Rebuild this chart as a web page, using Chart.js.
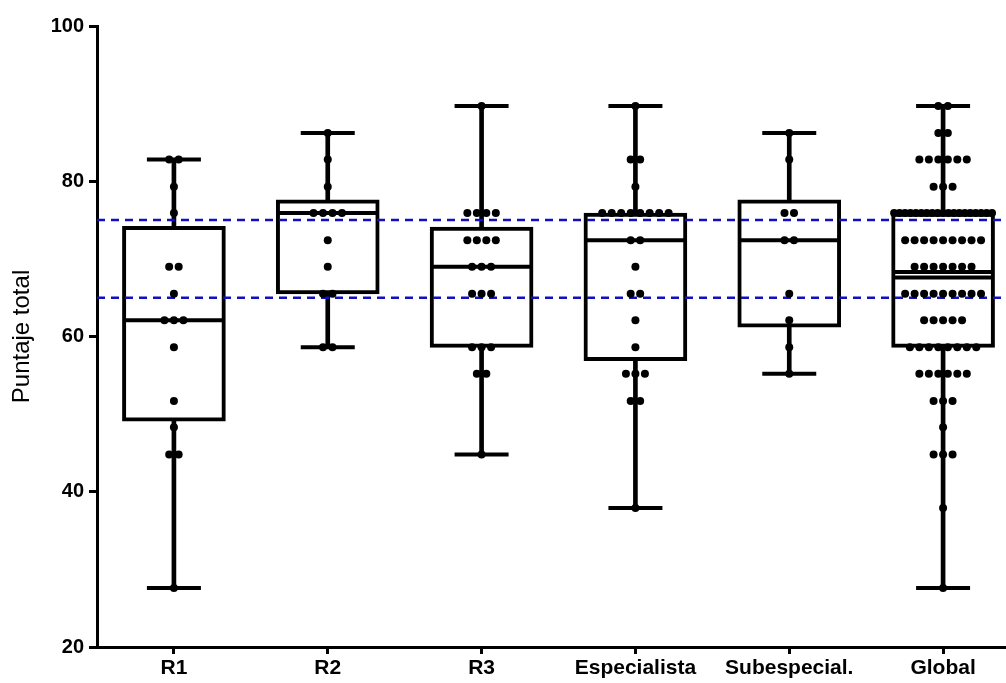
<!DOCTYPE html>
<html lang="es">
<head>
<meta charset="utf-8">
<title>Puntaje total</title>
<script src="https://cdn.jsdelivr.net/npm/chart.js@4.4.0/dist/chart.umd.min.js"></script>
<style>
    html, body { margin: 0; padding: 0; background: #fff; overflow: hidden; }
    canvas { display: block; }
</style>
</head>
<body>
<canvas id="grafico" width="1021" height="683"></canvas>
<script>
// Datos
const categorias = ['R1', 'R2', 'R3', 'Especialista', 'Subespecial.', 'Global'];
const ticksY = [20, 40, 60, 80, 100];
const lineasReferencia = [75, 65];

// Estadísticos de cada caja
const minimos  = [27.6, 58.6, 44.8, 37.9, 55.2, 27.6];
const cuartil1 = [49.1, 65.5, 58.6, 56.9, 61.2, 58.6];
const medianas = [62.1, 75.9, 69.0, 72.4, 72.4, 68.3];
const cuartil3 = [74.2, 77.6, 74.1, 75.9, 77.6, 75.9];
const maximos  = [82.8, 86.2, 89.7, 89.7, 86.2, 89.7];
const medias   = [null, null, null, null, null, 67.6];

// Puntajes individuales por grupo
const puntosR1 = [82.8, 82.8, 79.3, 75.9, 69.0, 69.0, 65.5, 62.1, 62.1, 62.1, 58.6, 51.7, 48.3, 44.8, 44.8, 27.6];
const puntosR2 = [86.2, 82.8, 79.3, 75.9, 75.9, 75.9, 75.9, 72.4, 69.0, 65.5, 65.5, 58.6, 58.6];
const puntosR3 = [89.7, 75.9, 75.9, 75.9, 75.9, 72.4, 72.4, 72.4, 72.4, 69.0, 69.0, 69.0,
                  65.5, 65.5, 65.5, 58.6, 58.6, 58.6, 55.2, 55.2, 44.8];
const puntosEspecialista = [89.7, 82.8, 82.8, 79.3, 75.9, 75.9, 75.9, 75.9, 75.9, 75.9, 75.9, 75.9,
                            72.4, 72.4, 69.0, 65.5, 65.5, 62.1, 58.6, 55.2, 55.2, 55.2, 51.7, 51.7, 37.9];
const puntosSubespecial = [86.2, 82.8, 75.9, 75.9, 72.4, 72.4, 65.5, 62.1, 58.6, 55.2];
const puntosGlobal = [89.7, 89.7, 86.2, 86.2, 82.8, 82.8, 82.8, 82.8, 82.8, 82.8, 79.3, 79.3, 79.3,
                      75.9, 75.9, 75.9, 75.9, 75.9, 75.9, 75.9, 75.9, 75.9, 75.9, 75.9, 75.9, 75.9, 75.9, 75.9, 75.9, 75.9, 75.9, 75.9,
                      72.4, 72.4, 72.4, 72.4, 72.4, 72.4, 72.4, 72.4, 72.4,
                      69.0, 69.0, 69.0, 69.0, 69.0, 69.0, 69.0,
                      65.5, 65.5, 65.5, 65.5, 65.5, 65.5, 65.5, 65.5, 65.5,
                      62.1, 62.1, 62.1, 62.1, 62.1,
                      58.6, 58.6, 58.6, 58.6, 58.6, 58.6, 58.6, 58.6,
                      55.2, 55.2, 55.2, 55.2, 55.2, 55.2,
                      51.7, 51.7, 51.7, 48.3, 44.8, 44.8, 44.8, 37.9, 27.6];
const grupos = [puntosR1, puntosR2, puntosR3, puntosEspecialista, puntosSubespecial, puntosGlobal];

// Separación horizontal de puntos con el mismo valor (en píxeles)
const ANCHO_CATEGORIA_PX = 154;
const PASO_PX = 9.5;
const ANCHO_MAX_PX = 98;

function repartirPuntos(valores, indice) {
    const conteo = {};
    valores.forEach(v => { conteo[v] = (conteo[v] || 0) + 1; });
    const puntos = [];
    Object.keys(conteo).forEach(clave => {
        const n = conteo[clave];
        const paso = n > 1 ? Math.min(PASO_PX, ANCHO_MAX_PX / (n - 1)) : 0;
        for (let j = 0; j < n; j++) {
            puntos.push({
                x: indice + (j - (n - 1) / 2) * paso / ANCHO_CATEGORIA_PX,
                y: Number(clave)
            });
        }
    });
    return puntos;
}

const porCategoria = (valores) => valores
    .map((v, i) => ({ x: i, y: v }))
    .filter(p => p.y !== null);

// Quitar el relleno automático que agrega cada eje
function sinRelleno(scale) {
    scale.paddingLeft = 0;
    scale.paddingRight = 0;
    scale.paddingTop = 0;
    scale.paddingBottom = 0;
}

Chart.defaults.font.family = "'Liberation Sans', Arial, sans-serif";
Chart.defaults.color = '#000';

const datasets = [
    {
        label: 'Puntajes',
        type: 'scatter',
        data: grupos.flatMap((g, i) => repartirPuntos(g, i)),
        pointRadius: 4,
        backgroundColor: '#000',
        borderWidth: 0,
        order: 0
    },
    {
        label: 'Mediana',
        type: 'scatter',
        data: porCategoria(medianas),
        pointStyle: 'line',
        pointRadius: 51,
        borderColor: '#000',
        borderWidth: 4,
        order: 1
    },
    {
        label: 'Media',
        type: 'scatter',
        data: porCategoria(medias),
        pointStyle: 'line',
        pointRadius: 51,
        borderColor: '#000',
        borderWidth: 4,
        order: 1
    },
    {
        label: 'Extremos',
        type: 'scatter',
        data: porCategoria(minimos).concat(porCategoria(maximos)),
        pointStyle: 'line',
        pointRadius: 27,
        borderColor: '#000',
        borderWidth: 4,
        order: 1
    }
];

lineasReferencia.forEach(valor => {
    datasets.push({
        label: 'Referencia ' + valor,
        type: 'line',
        data: [{ x: -0.5, y: valor }, { x: categorias.length - 0.5, y: valor }],
        borderColor: '#1010c0',
        borderWidth: 2.5,
        borderDash: [8, 6],
        pointRadius: 0,
        order: 2
    });
});

datasets.push({
    label: 'Caja',
    type: 'bar',
    data: categorias.map((c, i) => ({ x: i, y: [cuartil1[i], cuartil3[i]] })),
    backgroundColor: '#fff',
    borderColor: '#000',
    borderWidth: 4,
    borderSkipped: false,
    barThickness: 103,
    grouped: false,
    order: 3
});

datasets.push({
    label: 'Bigote',
    type: 'bar',
    data: categorias.map((c, i) => ({ x: i, y: [minimos[i], maximos[i]] })),
    backgroundColor: '#000',
    borderWidth: 0,
    barThickness: 4,
    grouped: false,
    order: 4
});

new Chart(document.getElementById('grafico'), {
    type: 'scatter',
    data: { datasets: datasets },
    options: {
        responsive: false,
        animation: false,
        events: [],
        layout: {
            autoPadding: false,
            padding: { top: 26, right: 1, bottom: 0, left: 0 }
        },
        plugins: {
            legend: { display: false },
            tooltip: { enabled: false }
        },
        scales: {
            x: {
                type: 'linear',
                min: -0.5,
                max: categorias.length - 0.5,
                offset: false,
                afterBuildTicks: (scale) => {
                    scale.ticks = categorias.map((c, i) => ({ value: i }));
                },
                afterFit: (scale) => {
                    scale.height = 36;
                    sinRelleno(scale);
                },
                ticks: {
                    autoSkip: false,
                    maxRotation: 0,
                    padding: 2,
                    font: { size: 21, weight: 'bold' },
                    callback: (value) => categorias[value]
                },
                grid: {
                    drawOnChartArea: false,
                    drawTicks: true,
                    tickLength: 7,
                    lineWidth: 3,
                    color: '#000',
                    offset: false
                },
                border: { display: true, color: '#000', width: 3 }
            },
            y: {
                min: ticksY[0],
                max: ticksY[ticksY.length - 1],
                afterBuildTicks: (scale) => {
                    scale.ticks = ticksY.map(v => ({ value: v }));
                },
                afterFit: (scale) => {
                    scale.width = 97;
                    sinRelleno(scale);
                },
                ticks: {
                    padding: 5,
                    font: { size: 20, weight: 'bold' }
                },
                grid: {
                    drawOnChartArea: false,
                    drawTicks: true,
                    tickLength: 8,
                    lineWidth: 3,
                    color: '#000'
                },
                border: { display: true, color: '#000', width: 3 },
                title: {
                    display: true,
                    text: 'Puntaje total',
                    font: { size: 24, weight: 'normal' },
                    padding: { top: 8, bottom: 0 }
                }
            }
        }
    }
});
</script>
</body>
</html>
